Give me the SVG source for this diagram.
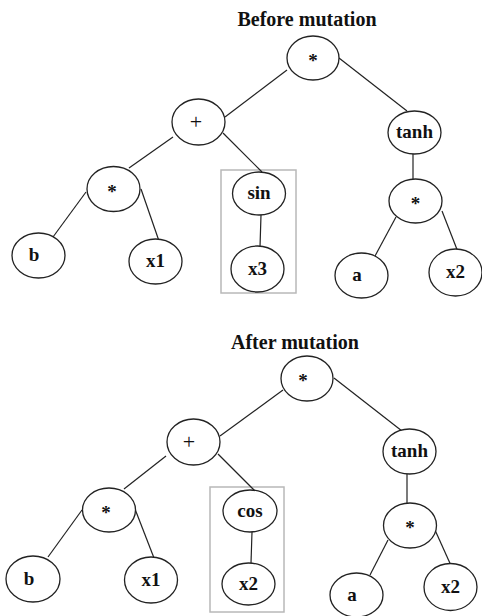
<svg xmlns="http://www.w3.org/2000/svg" width="482" height="616" viewBox="0 0 482 616">
  <style>
    .bg { fill: #ffffff; }
    .node ellipse { fill: #ffffff; stroke: #222222; stroke-width: 1.3; }
    .node text { font-family: "Liberation Serif", "Times New Roman", serif; font-weight: bold; font-size: 19px; fill: #111111; text-anchor: middle; }
    .node text.op { font-weight: normal; font-size: 22px; }
    .title { font-family: "Liberation Serif", "Times New Roman", serif; font-weight: bold; font-size: 20px; fill: #111111; text-anchor: middle; }
    .edges line { stroke: #222222; stroke-width: 1.2; }
    .frame { fill: none; stroke: #b8b8b8; stroke-width: 1.5; }
  </style>
  <rect class="bg" x="0" y="0" width="482" height="616"/>

  <!-- upper tree: expression before the mutation -->
  <text class="title" x="307" y="26">Before mutation</text>
  <rect id="frame-before" class="frame" x="221" y="170" width="75" height="123"/>
  <g id="edges-before" class="edges">
    <line x1="287" y1="70" x2="225" y2="117"/>
    <line x1="339" y1="58" x2="407" y2="111"/>
    <line x1="173" y1="137" x2="129" y2="168"/>
    <line x1="223" y1="133" x2="262" y2="172"/>
    <line x1="86" y1="192" x2="53" y2="237"/>
    <line x1="141" y1="189" x2="159" y2="241"/>
    <line x1="261" y1="215" x2="260" y2="247"/>
    <line x1="413" y1="154" x2="413" y2="179"/>
    <line x1="396" y1="217" x2="375" y2="256"/>
    <line x1="442" y1="211" x2="458" y2="252"/>
  </g>
  <g id="b-root" class="node"><ellipse cx="313" cy="58" rx="26" ry="22"/><text x="313" y="67">*</text></g>
  <g id="b-plus" class="node"><ellipse cx="198.5" cy="122" rx="26.5" ry="23"/><text class="op" x="196" y="129">+</text></g>
  <g id="b-tanh" class="node"><ellipse cx="414.5" cy="132.5" rx="26.5" ry="21.5"/><text x="414.5" y="138">tanh</text></g>
  <g id="b-mul-left" class="node"><ellipse cx="113.5" cy="189" rx="26.5" ry="22.5"/><text x="112" y="198">*</text></g>
  <g id="b-sin" class="node"><ellipse cx="259" cy="193.5" rx="26.5" ry="21.5"/><text x="259" y="199">sin</text></g>
  <g id="b-x3" class="node"><ellipse cx="257.5" cy="269" rx="26.5" ry="23"/><text x="257.5" y="275">x3</text></g>
  <g id="b-b" class="node"><ellipse cx="38.5" cy="255.5" rx="26.5" ry="22.5"/><text x="34" y="261">b</text></g>
  <g id="b-x1" class="node"><ellipse cx="155.5" cy="261.5" rx="26.5" ry="22.5"/><text x="155.5" y="267">x1</text></g>
  <g id="b-mul-right" class="node"><ellipse cx="415.5" cy="201" rx="26.5" ry="22"/><text x="415.5" y="210">*</text></g>
  <g id="b-a" class="node"><ellipse cx="361.5" cy="275.5" rx="26.5" ry="22.5"/><text x="357" y="281">a</text></g>
  <g id="b-x2" class="node"><ellipse cx="455.5" cy="272.5" rx="26.5" ry="23.5"/><text x="455.5" y="278">x2</text></g>

  <!-- lower tree: expression after the mutation -->
  <text class="title" x="295" y="349">After mutation</text>
  <rect id="frame-after" class="frame" x="210" y="487" width="74" height="125"/>
  <g id="edges-after" class="edges">
    <line x1="283" y1="390" x2="220" y2="436"/>
    <line x1="334" y1="378" x2="402" y2="431"/>
    <line x1="166" y1="456" x2="124" y2="489"/>
    <line x1="218" y1="454" x2="255" y2="491"/>
    <line x1="82" y1="510" x2="48" y2="557"/>
    <line x1="135" y1="509" x2="154" y2="558"/>
    <line x1="252" y1="532" x2="251" y2="563"/>
    <line x1="407" y1="474" x2="407" y2="503"/>
    <line x1="388" y1="540" x2="370" y2="575"/>
    <line x1="435" y1="530" x2="453" y2="570"/>
  </g>
  <g id="a-root" class="node"><ellipse cx="307" cy="378.5" rx="26" ry="22.5"/><text x="303" y="387">*</text></g>
  <g id="a-plus" class="node"><ellipse cx="193.5" cy="442" rx="26.5" ry="23"/><text class="op" x="189" y="449">+</text></g>
  <g id="a-tanh" class="node"><ellipse cx="409.5" cy="451.5" rx="26.5" ry="22.5"/><text x="409.5" y="457">tanh</text></g>
  <g id="a-mul-left" class="node"><ellipse cx="109" cy="510" rx="26.5" ry="22"/><text x="106" y="519">*</text></g>
  <g id="a-cos" class="node"><ellipse cx="250" cy="511" rx="27" ry="21"/><text x="250" y="517">cos</text></g>
  <g id="a-x2-mid" class="node"><ellipse cx="248.5" cy="584" rx="26.5" ry="21"/><text x="248.5" y="590">x2</text></g>
  <g id="a-b" class="node"><ellipse cx="33" cy="579" rx="27" ry="23"/><text x="29" y="585">b</text></g>
  <g id="a-x1" class="node"><ellipse cx="151" cy="580" rx="26.5" ry="23"/><text x="151" y="586">x1</text></g>
  <g id="a-mul-right" class="node"><ellipse cx="410" cy="525.5" rx="26.5" ry="22.5"/><text x="410" y="534">*</text></g>
  <g id="a-a" class="node"><ellipse cx="356.5" cy="595" rx="26.5" ry="22"/><text x="352" y="601">a</text></g>
  <g id="a-x2-right" class="node"><ellipse cx="450.5" cy="587" rx="26.5" ry="23.5"/><text x="450.5" y="593">x2</text></g>
</svg>
